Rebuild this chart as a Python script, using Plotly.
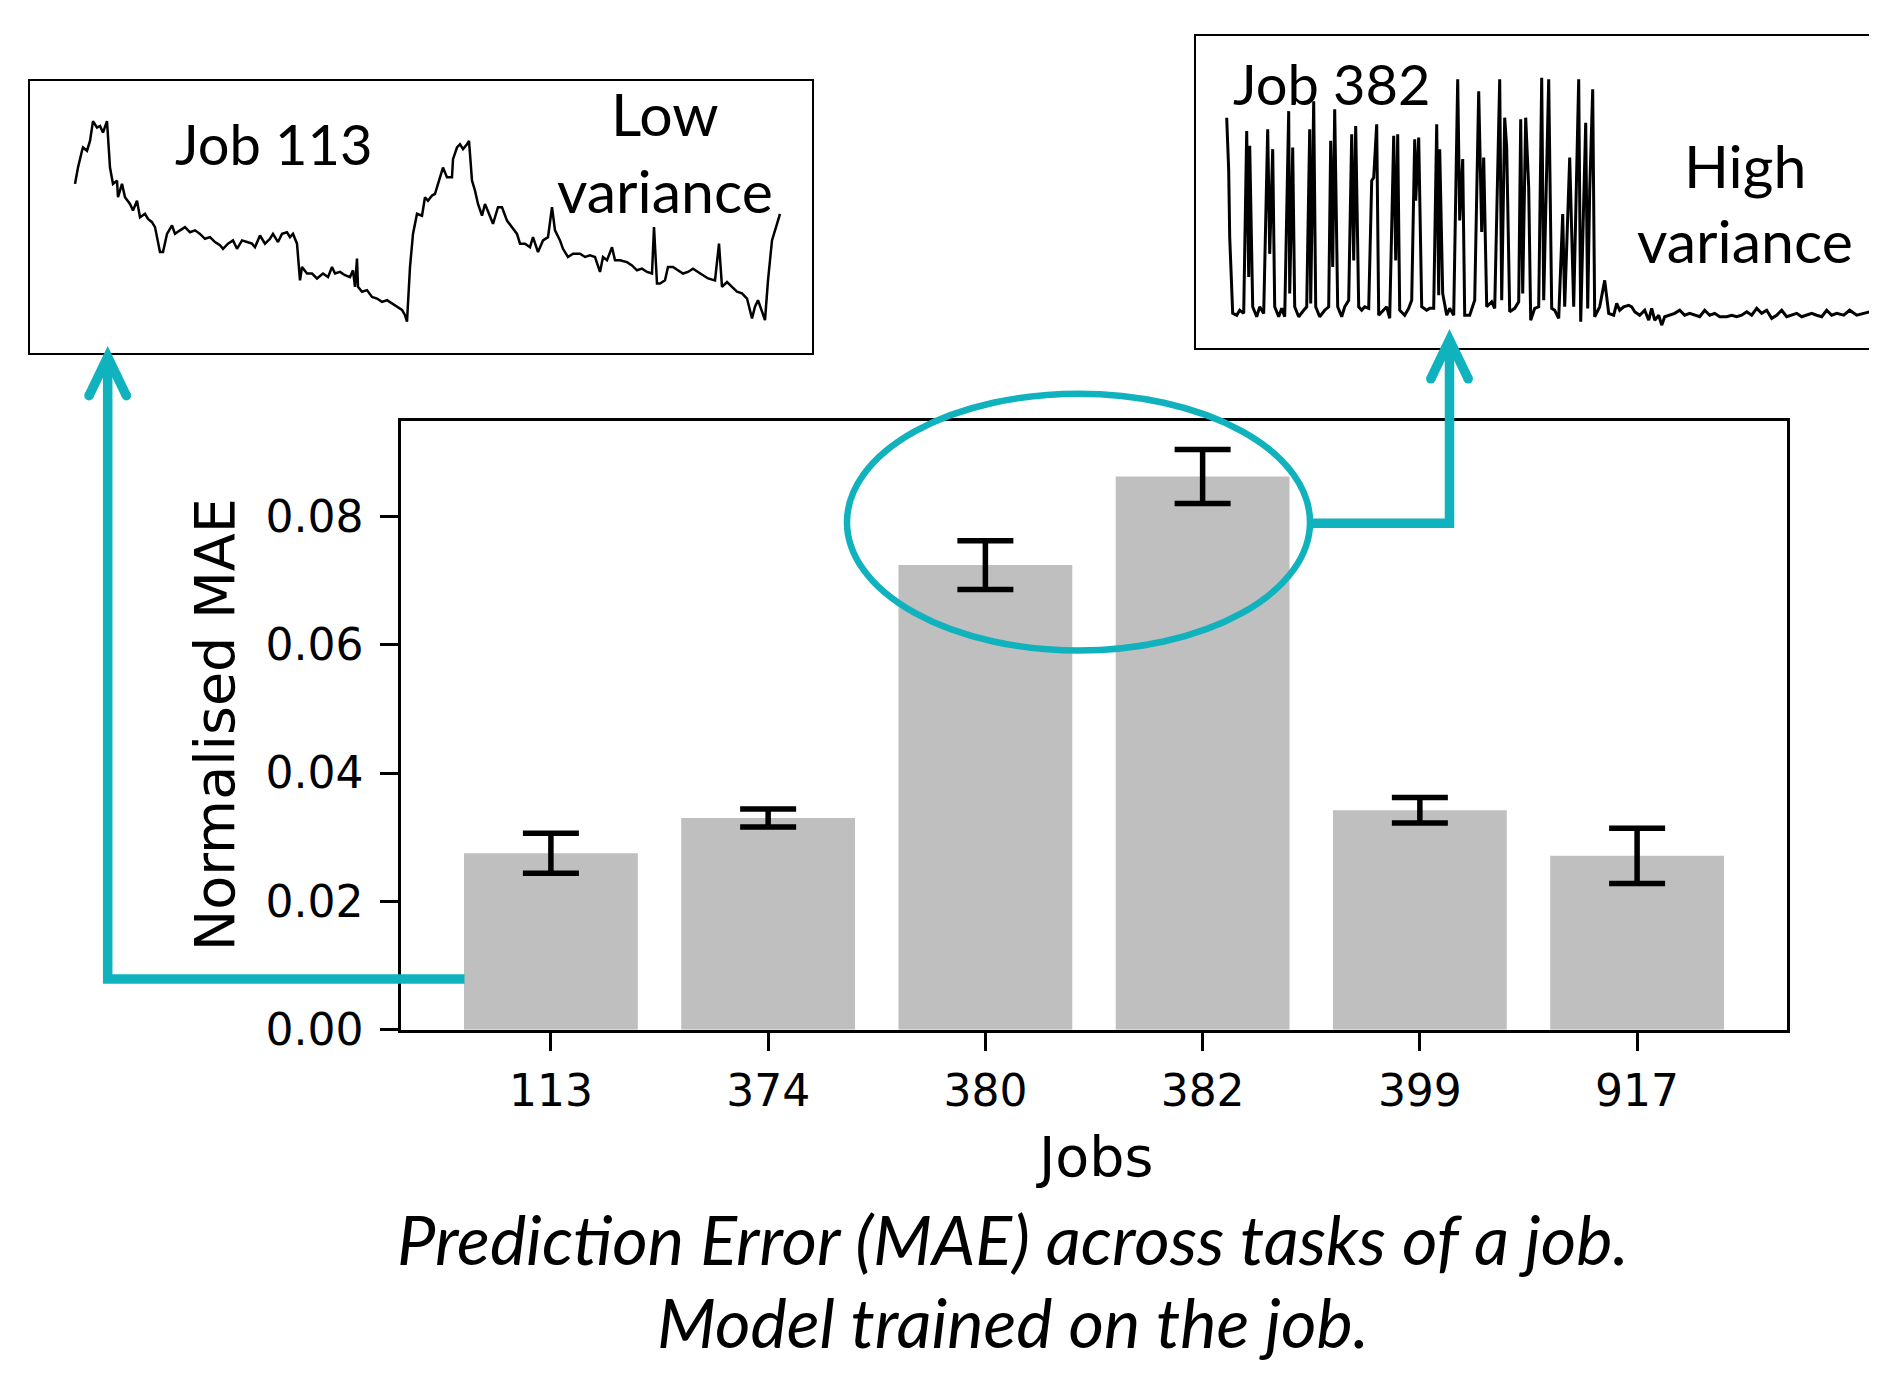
import plotly.graph_objects as go

# ---------------- data ----------------
jobs = ["113", "374", "380", "382", "399", "917"]
mae = [0.0275, 0.0330, 0.0724, 0.0862, 0.0342, 0.0271]
mae_err = [0.0031, 0.0014, 0.0038, 0.0042, 0.0020, 0.0043]
y_ticks = [0.00, 0.02, 0.04, 0.06, 0.08]

# Job 113 usage trace (relative load, % of panel height) vs time
job113_t = [0, 3, 7, 8, 12, 15, 18, 22, 25, 28, 32, 35, 38, 42, 43, 47, 50, 55, 58, 62,
            65, 70, 73, 77, 80, 83, 85, 88, 92, 97, 100, 105, 110, 115, 120, 125, 130, 135, 140, 145,
            148, 153, 158, 162, 167, 172, 177, 180, 185, 190, 195, 198, 203, 207, 212, 215, 218, 222, 225, 227,
            232, 237, 242, 248, 253, 257, 260, 265, 270, 275, 278, 280, 282, 283, 287, 292, 297, 302, 307, 312,
            317, 322, 327, 330, 332, 335, 338, 342, 347, 350, 353, 357, 360, 365, 368, 372, 377, 378, 382, 385,
            388, 392, 394, 397, 400, 403, 407, 410, 413, 418, 423, 427, 432, 437, 442, 445, 450, 455, 458, 463,
            468, 473, 477, 480, 485, 488, 493, 498, 505, 510, 515, 520, 525, 528, 532, 537, 540, 545, 552, 557,
            562, 567, 572, 577, 579, 582, 585, 590, 593, 598, 603, 608, 613, 618, 623, 628, 633, 640, 644, 647,
            652, 657, 662, 667, 672, 677, 680, 683, 687, 690, 693, 697, 702, 705]
job113_v = [62.2, 68.2, 74.4, 75.6, 74.4, 78.0, 85.3, 82.9, 83.5, 81.1, 85.3, 68.2, 62.2, 63.4, 57.3, 62.2, 57.3, 54.8, 52.4, 56.0,
            49.9, 51.2, 49.3, 48.1, 46.3, 41.4, 37.1, 37.1, 43.8, 46.9, 43.8, 45.1, 46.3, 44.4, 45.1, 43.8, 42.0, 42.6, 40.8, 39.6,
            38.3, 40.2, 41.4, 38.3, 41.4, 40.8, 40.2, 38.9, 43.2, 40.2, 42.0, 43.8, 40.8, 43.8, 44.4, 42.6, 43.8, 40.2, 26.7, 31.6,
            29.2, 29.2, 27.4, 29.2, 27.9, 31.6, 29.2, 29.8, 28.6, 27.9, 30.4, 24.3, 34.7, 24.3, 22.5, 23.1, 20.6, 20.0, 18.8, 19.4,
            18.2, 17.0, 15.8, 13.9, 11.5, 31.6, 43.8, 51.2, 50.5, 57.3, 56.0, 57.9, 58.5, 64.6, 68.2, 64.6, 64.6, 71.3, 75.6, 76.8,
            75.0, 76.8, 78.0, 63.4, 59.7, 54.8, 50.5, 54.8, 51.8, 47.5, 53.6, 53.6, 48.7, 46.3, 43.8, 40.2, 40.2, 38.9, 42.6, 37.1,
            41.4, 42.6, 53.6, 45.1, 41.4, 38.3, 35.3, 36.5, 36.5, 35.3, 35.9, 35.3, 29.8, 35.3, 34.1, 38.9, 34.1, 34.1, 33.4, 32.2,
            30.4, 31.0, 29.8, 29.2, 46.3, 25.5, 25.5, 26.7, 31.6, 31.6, 30.4, 29.2, 29.8, 31.0, 29.8, 28.6, 27.4, 26.7, 40.2, 24.3,
            26.1, 24.3, 22.5, 21.9, 20.0, 12.7, 17.0, 19.4, 15.1, 12.1, 26.7, 41.4, 47.5, 51.2]

# Job 382 usage trace (relative load, % of panel height) vs time
job382_t = [0, 2, 3, 6, 10, 13, 17, 20, 22, 23, 26, 30, 33, 37, 41, 43, 46, 48, 52, 55,
            58, 62, 63, 66, 68, 72, 77, 80, 83, 84, 87, 89, 93, 98, 102, 104, 106, 108, 111, 115,
            118, 122, 125, 127, 129, 132, 135, 138, 142, 145, 147, 150, 152, 157, 160, 163, 167, 169, 171, 173,
            178, 182, 185, 188, 189, 192, 195, 200, 203, 207, 210, 212, 213, 216, 220, 223, 227, 231, 233, 236,
            238, 243, 248, 252, 255, 257, 260, 265, 268, 273, 275, 278, 280, 283, 288, 292, 294, 296, 299, 302,
            304, 308, 312, 315, 317, 322, 325, 328, 332, 336, 338, 343, 347, 352, 354, 359, 361, 363, 366, 368,
            373, 378, 382, 387, 390, 393, 397, 402, 405, 408, 413, 418, 422, 425, 428, 432, 435, 438, 443, 448,
            453, 458, 463, 468, 473, 478, 483, 488, 493, 500, 505, 510, 515, 520, 525, 530, 535, 540, 545, 550,
            555, 560, 565, 570, 575, 580, 585, 590, 595, 600, 605, 610, 617, 623, 630, 637, 643, 650, 660]
job382_v = [73.9, 56.9, 35.6, 11.1, 10.5, 12.1, 11.1, 69.6, 22.8, 64.9, 13.2, 10.0, 13.2, 11.1, 70.2, 30.2, 63.8, 13.2, 10.0, 12.7,
            10.0, 76.0, 17.5, 64.3, 13.2, 10.0, 12.1, 13.2, 70.2, 14.3, 79.2, 13.2, 10.0, 12.1, 13.2, 66.5, 26.0, 76.6, 13.2, 10.0,
            13.2, 15.3, 68.6, 28.1, 71.2, 13.2, 12.1, 13.2, 12.7, 53.7, 54.7, 71.8, 10.5, 12.1, 13.2, 9.5, 68.1, 28.1, 68.6, 12.1,
            10.5, 12.7, 15.3, 67.0, 47.3, 67.5, 13.2, 12.1, 12.7, 12.7, 71.8, 16.9, 63.8, 17.5, 10.5, 12.7, 10.5, 86.2, 40.9, 60.6,
            10.5, 10.5, 15.3, 82.4, 37.2, 61.1, 13.2, 14.8, 12.7, 86.2, 15.3, 73.9, 64.3, 11.6, 12.7, 14.8, 73.4, 17.5, 73.9, 51.5,
            8.9, 12.7, 13.2, 86.7, 15.3, 86.2, 12.7, 12.1, 9.5, 43.0, 13.2, 61.1, 13.2, 86.2, 8.4, 72.3, 12.7, 50.5, 83.0, 10.0,
            13.2, 21.7, 11.1, 10.5, 14.3, 12.1, 13.2, 13.7, 13.2, 11.6, 10.5, 12.1, 8.9, 12.7, 8.9, 10.5, 7.3, 10.0, 10.5, 11.1,
            12.1, 10.5, 11.1, 10.5, 10.0, 12.1, 10.5, 11.1, 10.0, 10.0, 10.5, 10.0, 10.5, 11.6, 10.5, 12.7, 11.1, 12.1, 9.5, 10.5,
            12.1, 10.0, 10.5, 11.1, 10.0, 10.5, 11.1, 10.5, 10.0, 12.1, 10.5, 11.1, 10.5, 12.1, 10.5, 11.1, 11.6, 11.1, 11.0]

# ---------------- layout helpers ----------------
OFF = 8                    # page body margin
SY = 0.9864                # vertical scale observed between page and photo
OY = 6.5                   # vertical offset observed in the photo
W, H = 1877 - 2 * OFF, 1379
TEAL = "#10B2BE"


def px(x):
    return (x - OFF) / W


def py(y):
    return 1 - ((y - OY) / SY) / H


fig = go.Figure()

# main bar chart
fig.add_trace(go.Bar(
    x=jobs, y=mae, width=0.8,
    marker=dict(color="#bfbfbf", line=dict(width=0)),
    error_y=dict(type="data", array=mae_err, visible=True,
                 color="black", thickness=5.5, width=28),
    xaxis="x", yaxis="y", showlegend=False,
))

# inset traces
fig.add_trace(go.Scatter(x=job113_t, y=job113_v, mode="lines",
                         line=dict(color="black", width=2.5),
                         xaxis="x2", yaxis="y2", showlegend=False))
fig.add_trace(go.Scatter(x=job382_t, y=job382_v, mode="lines",
                         line=dict(color="black", width=3),
                         xaxis="x3", yaxis="y3", showlegend=False))

tick_font = dict(family="DejaVu Sans", size=44, color="black")

fig.update_layout(
    width=W, height=H, autosize=False,
    margin=dict(l=0, r=0, t=0, b=0),
    paper_bgcolor="white", plot_bgcolor="white",
    xaxis=dict(domain=[px(401), px(1787)], type="category",
               range=[-0.69, 5.69], showgrid=False, zeroline=False,
               showline=True, linecolor="black", linewidth=2.5, mirror=True,
               ticks="outside", ticklen=18, tickwidth=2.5, tickcolor="black",
               tickfont=tick_font, ticklabelstandoff=3, anchor="y"),
    yaxis=dict(domain=[py(1033), py(421)], range=[0, 0.0949],
               tickvals=y_ticks, tickformat=".2f", showgrid=False, zeroline=False,
               showline=True, linecolor="black", linewidth=2.5, mirror=True,
               ticks="outside", ticklen=18, tickwidth=2.5, tickcolor="black",
               tickfont=tick_font, ticklabelstandoff=8, anchor="x"),
    xaxis2=dict(domain=[px(30), px(812)], range=[-45, 737], anchor="y2",
                showgrid=False, zeroline=False, showticklabels=False, ticks="",
                showline=True, linecolor="black", linewidth=2, mirror=True),
    yaxis2=dict(domain=[py(353), py(80)], range=[0, 100], anchor="x2",
                showgrid=False, zeroline=False, showticklabels=False, ticks="",
                showline=True, linecolor="black", linewidth=2, mirror=True),
    xaxis3=dict(domain=[px(1196), 1.0], range=[-30.7, 642.3], anchor="y3",
                showgrid=False, zeroline=False, showticklabels=False, ticks="",
                showline=True, linecolor="black", linewidth=2, mirror=True),
    yaxis3=dict(domain=[py(348), py(35)], range=[0, 100], anchor="x3",
                showgrid=False, zeroline=False, showticklabels=False, ticks="",
                showline=True, linecolor="black", linewidth=2, mirror=False),
)

# ---------------- annotations (text) ----------------
lato = dict(family="Lato", size=56, color="black")
lato_b = dict(family="Lato", size=59, color="black")
dv = dict(family="DejaVu Sans", size=55.5, color="black")
cap = dict(family="Lato", size=68.5, color="black", style="italic")


def note(text, x, y, font, angle=0):
    fig.add_annotation(text=text, x=px(x), y=py(y), xref="paper", yref="paper",
                       xanchor="center", yanchor="middle", showarrow=False,
                       font=font, textangle=angle)


note("Job 113", 274, 143, lato)
note("Low", 665, 112, lato_b)
note("variance", 665, 190, lato_b)
note("Job 382", 1332, 82, lato)
note("High", 1745, 165, lato_b)
note("variance", 1745, 240, lato_b)
note("Jobs", 1094, 1160, dv)
note("Normalised MAE", 214, 727, dv, angle=-90)
note("Prediction Error (MAE) across tasks of a job.", 1013, 1243, cap)
note("Model trained on the job.", 1013, 1326, cap)

# ---------------- teal call-outs ----------------
LW = 9.5
line_style = dict(color=TEAL, width=LW)


def path(points):
    return "M " + " L ".join(f"{px(a):.5f},{py(b):.5f}" for a, b in points)


def dot(x, y):
    r = LW / 2
    return dict(type="circle", xref="paper", yref="paper",
                x0=px(x - r), x1=px(x + r), y0=py(y + r), y1=py(y - r),
                fillcolor=TEAL, line=dict(width=0))


shapes = [
    # ellipse around jobs 380 / 382
    dict(type="circle", xref="paper", yref="paper",
         x0=px(847), x1=px(1310), y0=py(652), y1=py(394),
         line=dict(color=TEAL, width=6.5)),
    # left connector: job 113 -> its inset
    dict(type="path", xref="paper", yref="paper",
         path=path([(464.5, 982), (107.7, 982), (107.7, 362)]), line=line_style),
    dict(type="path", xref="paper", yref="paper",
         path=path([(89.0, 396), (107.7, 357), (126.4, 396)]), line=line_style),
    dot(89.0, 396), dot(126.4, 396),
    # right connector: ellipse -> job 382 inset
    dict(type="path", xref="paper", yref="paper",
         path=path([(1307, 524), (1449.5, 524), (1449.5, 345)]), line=line_style),
    dict(type="path", xref="paper", yref="paper",
         path=path([(1430.8, 379), (1449.5, 340), (1468.2, 379)]), line=line_style),
    dot(1430.8, 379), dot(1468.2, 379),
]
fig.update_layout(shapes=shapes)

fig.write_html("out.html")
